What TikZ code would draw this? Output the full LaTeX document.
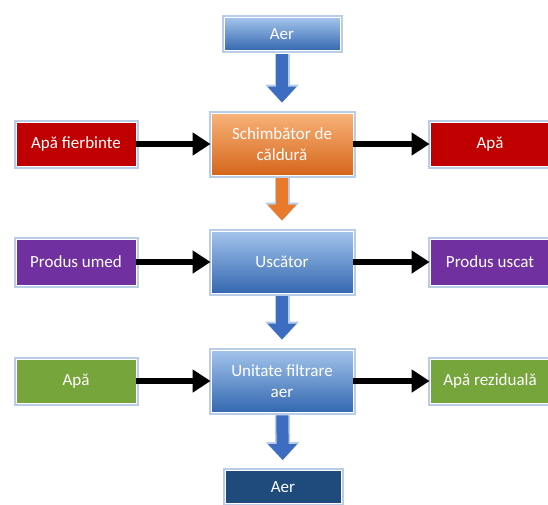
\documentclass[tikz,border=0pt]{standalone}
\usepackage{fontspec}
\setmainfont{Carlito}
\usetikzlibrary{arrows.meta}
\definecolor{glowblue}{HTML}{B9CDE6}
\definecolor{bluetop}{HTML}{A3C4EC}
\definecolor{bluebot}{HTML}{3468B0}
\definecolor{orangetop}{HTML}{F9B37A}
\definecolor{orangebot}{HTML}{D5661B}
\definecolor{redbox}{HTML}{C00000}
\definecolor{purplebox}{HTML}{7030A0}
\definecolor{greenbox}{HTML}{76A53C}
\definecolor{darkbox}{HTML}{1F4A7C}
\definecolor{bluearrow}{HTML}{3C6DC0}
\definecolor{orangearrow}{HTML}{E97A2B}
\tikzstyle{box}=[rectangle,draw=white,line width=0.8pt,text=white,
                 align=center,inner sep=0pt,
                 font=\fontsize{17}{21}\selectfont,
                 preaction={draw=glowblue,line width=5pt}]
\tikzstyle{sidebox}=[box,minimum width=120pt,minimum height=44pt]
\tikzstyle{midbox}=[box,minimum width=142pt,minimum height=62pt,
                    top color=bluetop,bottom color=bluebot]
\tikzstyle{airbox}=[box,minimum width=116pt,minimum height=33pt]
\tikzstyle{blackarrow}=[line width=6pt,-{Triangle[width=22pt,length=18pt]}]
\tikzstyle{fatarrow}=[line width=12pt,shorten <=3pt,shorten >=10pt,
                      -{Triangle[width=28pt,length=16pt]},
                      preaction={draw=glowblue,line width=15pt,
                        -{Triangle[width=33pt,length=18pt]}}]

\begin{document}
\begin{tikzpicture}[x=1pt,y=-1pt]
    \useasboundingbox (0,0) rectangle (548,504);
    % boxes
    \node (aersus) at (282, 34) [airbox,top color=bluetop,bottom color=bluebot]{Aer};
    \node (fierb) at ( 76,144) [sidebox,fill=redbox]{Apă fierbinte};
    \node (schimb) at (282,144) [midbox,top color=orangetop,bottom color=orangebot]{Schimbător de\\căldură};
    \node (apa1) at (490,144) [sidebox,fill=redbox]{Apă};
    \node (umed) at ( 76,262) [sidebox,minimum height=46pt,fill=purplebox]{Produs umed};
    \node (uscator) at (282,262) [midbox]{Uscător};
    \node (uscat) at (490,262) [sidebox,minimum height=46pt,fill=purplebox]{Produs uscat};
    \node (apa2) at ( 76,381) [sidebox,fill=greenbox]{Apă};
    \node (filtru) at (282,381) [midbox]{Unitate filtrare\\aer};
    \node (rezid) at (490,381) [sidebox,fill=greenbox]{Apă reziduală};
    \node (aerjos) at (283,487) [airbox,fill=darkbox]{Aer};
    % arrows
    \draw[fatarrow,bluearrow] (aersus) -- (schimb);
    \draw[fatarrow,orangearrow] (schimb) -- (uscator);
    \draw[fatarrow,bluearrow] (uscator) -- (filtru);
    \draw[fatarrow,bluearrow] (filtru) -- (aerjos);
    \draw[blackarrow] (fierb) -- (schimb);
    \draw[blackarrow] (schimb) -- (apa1);
    \draw[blackarrow] (umed) -- (uscator);
    \draw[blackarrow] (uscator) -- (uscat);
    \draw[blackarrow] (apa2) -- (filtru);
    \draw[blackarrow] (filtru) -- (rezid);
\end{tikzpicture}
\end{document}
